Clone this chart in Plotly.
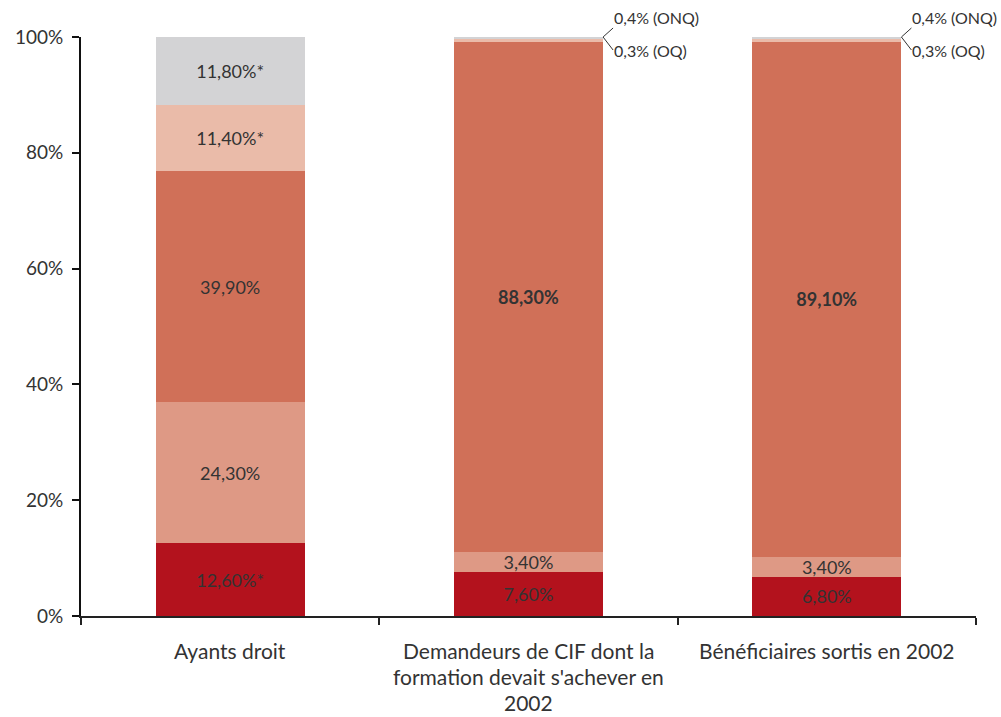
import plotly.graph_objects as go

# Categories (one entry per bar) and their wrapped label lines
categories = ["Ayants droit",
              "Demandeurs de CIF dont la formation devait s'achever en 2002",
              "Bénéficiaires sortis en 2002"]
category_lines = [["Ayants droit"],
                  ["Demandeurs de CIF dont la", "formation devait s'achever en", "2002"],
                  ["Bénéficiaires sortis en 2002"]]

# Stacked segments, bottom to top
seg_1 = [12.6, 7.6, 6.8]
seg_2 = [24.3, 3.4, 3.4]
seg_3 = [39.9, 88.3, 89.1]
seg_4 = [11.4, 0.3, 0.3]
seg_5 = [11.8, 0.4, 0.4]

seg_1_text = ["12,60%*", "7,60%", "6,80%"]
seg_2_text = ["24,30%", "3,40%", "3,40%"]
seg_3_text = ["39,90%", "<b>88,30%</b>", "<b>89,10%</b>"]
seg_4_text = ["11,40%*", "", ""]
seg_5_text = ["11,80%*", "", ""]

# Callouts for the thin top segments
callout_top = "0,4% (ONQ)"
callout_low = "0,3% (OQ)"

y_ticks = [0, 20, 40, 60, 80, 100]
y_tick_text = ["0%", "20%", "40%", "60%", "80%", "100%"]

colors = ["#B3121D", "#DE9985", "#D07058", "#EABBA9", "#D3D3D5"]
FONT = "Lato"
TXT = "#333333"

series = [(seg_1, seg_1_text), (seg_2, seg_2_text), (seg_3, seg_3_text),
          (seg_4, seg_4_text), (seg_5, seg_5_text)]

fig = go.Figure()
for (vals, txt), col in zip(series, colors):
    fig.add_trace(go.Bar(
        x=categories, y=vals, text=txt, textposition="inside",
        insidetextanchor="middle", textangle=0, constraintext="none",
        textfont=dict(family=FONT, size=18, color=TXT),
        marker=dict(color=col, line=dict(width=0)),
        hoverinfo="skip", showlegend=False,
    ))

annotations = []
# Category labels, one line per annotation
for i, lines in enumerate(category_lines):
    for j, line in enumerate(lines):
        annotations.append(dict(
            x=i, y=0, xref="x", yref="y", text=line, showarrow=False,
            yshift=-(34 + 26 * j), xanchor="center", yanchor="middle",
            font=dict(family=FONT, size=21, color=TXT)))

# Leader-line callouts for the two thin segments of bars 2 and 3
for i in (1, 2):
    top = seg_1[i] + seg_2[i] + seg_3[i] + seg_4[i] + seg_5[i]
    annotations.append(dict(
        x=i + 0.25, y=top, xref="x", yref="y", text=callout_top,
        showarrow=True, arrowhead=0, arrowwidth=1, arrowcolor="#333",
        ax=10, ay=-9, xanchor="left", yanchor="bottom",
        font=dict(family=FONT, size=16, color=TXT), borderpad=0))
    annotations.append(dict(
        x=i + 0.25, y=top, xref="x", yref="y", text=callout_low,
        showarrow=True, arrowhead=0, arrowwidth=1, arrowcolor="#333",
        ax=10, ay=13, xanchor="left", yanchor="middle",
        font=dict(family=FONT, size=16, color=TXT), borderpad=0))

fig.update_layout(
    barmode="stack", bargap=0.5,
    width=1001, height=717,
    margin=dict(l=81, r=25, t=37, b=101),
    paper_bgcolor="white", plot_bgcolor="white",
    annotations=annotations,
    font=dict(family=FONT, color=TXT),
)
fig.update_xaxes(
    range=[-0.5, len(categories) - 0.5],
    showticklabels=False, tickson="boundaries", ticks="outside",
    ticklen=7, tickwidth=2, tickcolor="#222",
    showline=True, linecolor="#222", linewidth=2,
    showgrid=False, zeroline=False, automargin=False,
)
fig.update_yaxes(
    range=[0, 100], tickvals=y_ticks, ticktext=y_tick_text,
    ticks="outside", ticklen=7, tickwidth=2, tickcolor="#111",
    showline=True, linecolor="#111", linewidth=2,
    showgrid=False, zeroline=False, automargin=False,
    ticklabelstandoff=5,
    tickfont=dict(family=FONT, size=19, color=TXT),
)

fig.write_html("out.html")
